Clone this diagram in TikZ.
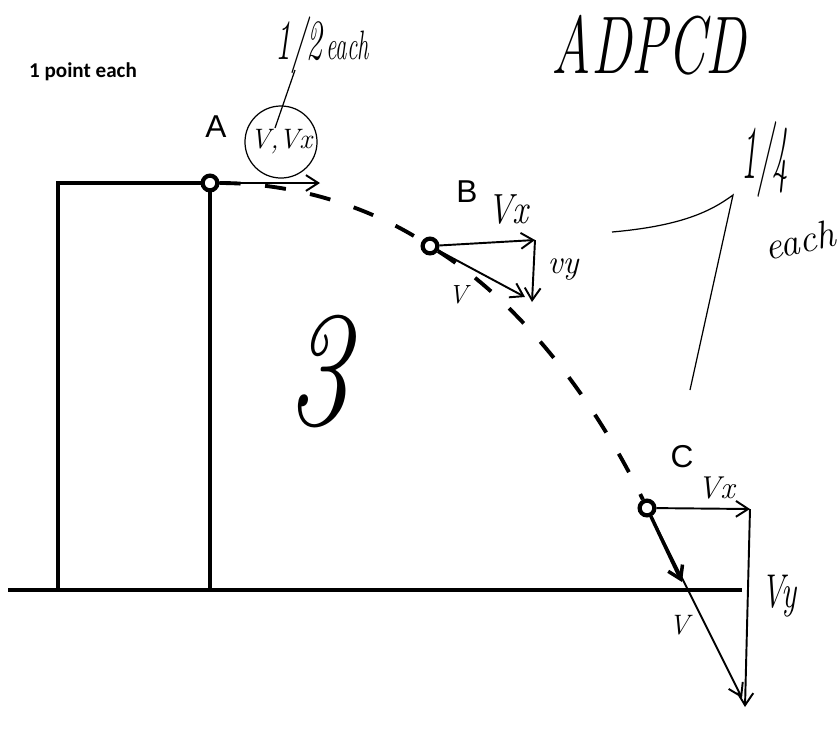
\documentclass[tikz,border=0pt]{standalone}
\usepackage{fontspec}
\usepackage{tikz}
\usetikzlibrary{arrows.meta, shapes.geometric}
\newfontfamily\labelfont{Liberation Sans}
\newfontfamily\notefont{Carlito}
\newcommand{\fsz}[1]{\fontsize{#1}{#1}\selectfont}

\begin{document}
\begin{tikzpicture}[
  x=0.02cm, y=-0.02cm,
  every node/.style={inner sep=0pt},
  ball/.style={circle, draw, fill=white, line width=2.4pt, minimum size=8.4pt},
  lbl/.style={font=\labelfont\fsz{18}},
  hand/.style={font=\itshape},
  wall/.style={line width=2.2pt},
  traj/.style={line width=2.2pt, dash pattern=on 12pt off 14pt},
  vec/.style={line width=1.1pt, -{Straight Barb[length=7pt,width=9pt]}},
  ink/.style={line width=0.7pt}
]
\useasboundingbox (0,0) rectangle (839,745);

% cliff and ground
\coordinate (TL) at (58,183);
\coordinate (BL) at (58,590);
\coordinate (BR) at (210,590);
\coordinate (G1) at (8,590);
\coordinate (G2) at (742,590);

% points on the path
\node[ball] (A) at (210,183) {};
\node[ball] (B) at (430,246) {};
\node[ball] (C) at (647,508) {};

\draw[wall] (BL) -- (TL) -- (A);
\draw[wall] (A) -- (BR);
\draw[wall] (G1) -- (G2);

% trajectory
\draw[traj] (A) .. controls (294,183) and (367,206) .. (B);
\draw[traj] (B) .. controls (523,305) and (595,401) .. (C);

\node[lbl] (labA) at (216,127) {A};
\node[lbl] (labB) at (467,192) {B};
\node[lbl] (labC) at (682,457) {C};

% vectors at A
\coordinate (Ax) at (320,183);
\draw[vec] (A) -- (Ax);

% vectors at B
\coordinate (Bx) at (535,240);
\coordinate (By) at (532,302);
\coordinate (Bv) at (525,297);
\draw[vec] (B) -- (Bx);
\draw[vec] (Bx) -- (By);
\draw[vec] (B) -- (Bv);
\node[hand, font=\itshape\fsz{20}, yscale=1.2] (Bvx) at (508,210) {Vx};
\node[hand, font=\itshape\fsz{19}] (Bvy) at (563,270) {vy};
\node[hand, font=\itshape\fsz{15}] (Bvv) at (458,295) {V};

% vectors at C
\coordinate (Cx) at (750,509);
\coordinate (Cy) at (745,707);
\coordinate (Cv) at (742,698);
\coordinate (Cs) at (682,582);
\draw[vec] (C) -- (Cx);
\draw[vec] (Cx) -- (Cy);
\draw[vec] (C) -- (Cv);
\draw[vec, line width=2pt] (C) -- (Cs);
\node[hand, font=\itshape\fsz{18}] (Cvx) at (716,488) {Vx};
\node[hand, font=\itshape\fsz{18}, yscale=1.5] (Cvy) at (779,596) {Vy};
\node[hand, font=\itshape\fsz{16}] (Cvv) at (679,625) {V};

% grading notes
\node[font=\notefont\bfseries\fsz{12}] (rule) at (83,72) {1 point each};
\node[hand, font=\itshape\fsz{13}, yscale=1.8] (half) at (322,45) {{\fsz{18}1/2}\,each};
\node[hand, font=\itshape\fsz{31}, yscale=1.5] (grade) at (649,45) {ADPCD};
\node[hand, ink, draw, circle, minimum size=41pt,
      font=\itshape\fsz{16}] (circ) at (281,142) {V,Vx};
\coordinate (halfFoot) at (295,70);
\coordinate (circIn) at (275,128);
\draw[ink] (halfFoot) -- (circIn);

\node[hand, font=\itshape\fsz{18}, yscale=2.4] (quarter) at (765,160) {1/4};
\node[hand, font=\itshape\fsz{22}, rotate=12] (eachq) at (800,240) {each};
\coordinate (brA) at (612,232);
\coordinate (brB) at (733,195);
\coordinate (brC) at (690,390);
\draw[ink] (brA) .. controls (680,226) and (710,212) .. (brB) -- (brC);

\node[hand, font=\itshape\fsz{72}, yscale=1.3] (score) at (318,372) {3};
\end{tikzpicture}
\end{document}
